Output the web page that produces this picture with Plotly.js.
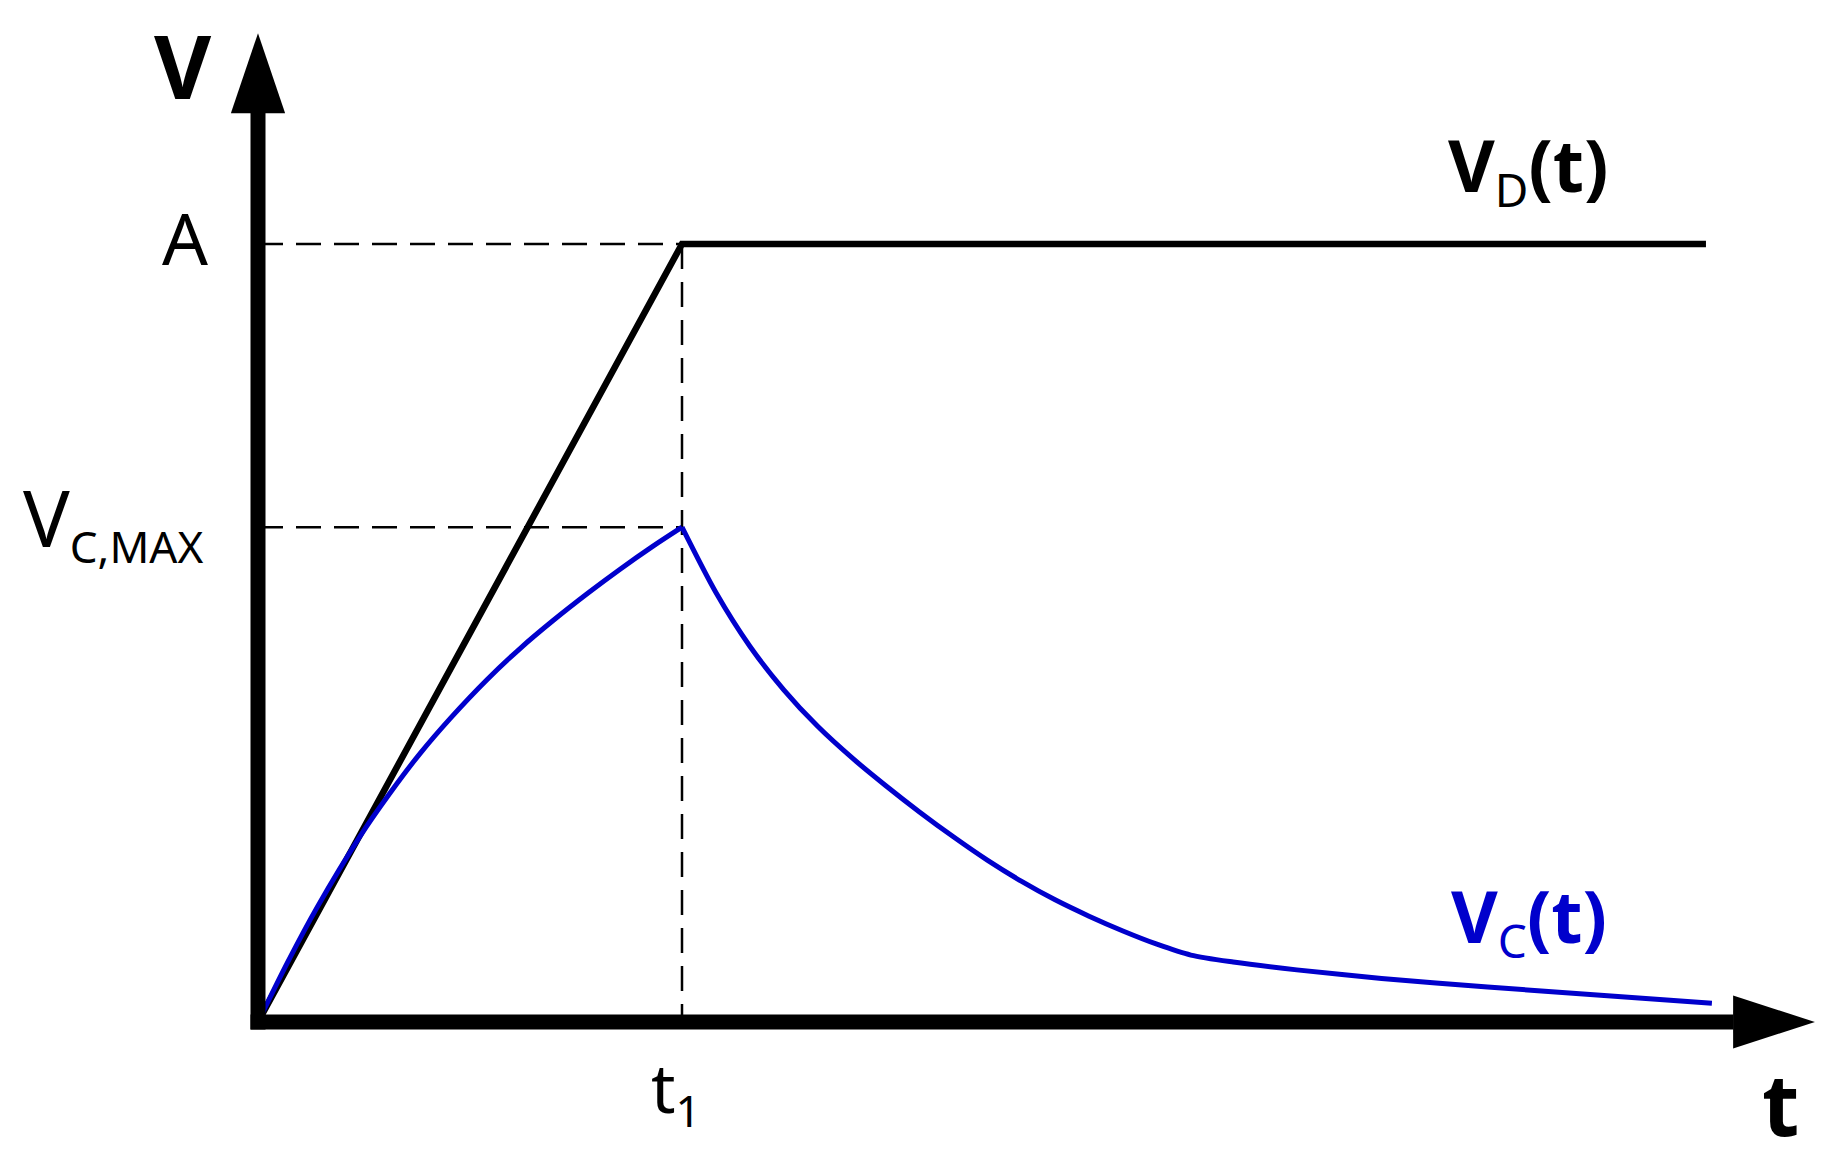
<!DOCTYPE html>
<html>
<head>
<meta charset="utf-8">
<script src="https://cdn.plot.ly/plotly-3.0.1.min.js"></script>
<style>
  html, body { margin: 0; padding: 0; background: #ffffff; }
  #chart { width: 1836px; height: 1160px; }
</style>
</head>
<body>
<div id="chart"></div>
<script>
// time in units of t1, voltage in units of A
const t1 = 1;
const vA = 1;
const vCmax = 0.636;

// drive voltage V_D(t): ramp to A at t1, then flat
const tDrive = [0, 1, 3.415];
const vDrive = [0, 1, 1];

// capacitor voltage V_C(t), charging part (0 .. t1)
const tRise = [0, 0.07, 0.139, 0.241, 0.311, 0.382, 0.453, 0.540, 0.620, 0.696, 0.780, 0.854, 0.930, 1.0];
const vRise = [0, 0.077, 0.147, 0.239, 0.294, 0.345, 0.390, 0.440, 0.481, 0.516, 0.552, 0.582, 0.611, 0.636];

// capacitor voltage V_C(t), discharging part (t1 .. end)
const tDecay = [1.0, 1.08, 1.16, 1.24, 1.32, 1.40, 1.48, 1.56, 1.64, 1.72, 1.80, 1.88,
                1.96, 2.04, 2.12, 2.20, 2.30, 2.45, 2.65, 2.90, 3.15, 3.429];
const vDecay = [0.636, 0.552, 0.483, 0.427, 0.380, 0.340, 0.304, 0.270, 0.238, 0.208, 0.181, 0.157,
                0.136, 0.117, 0.100, 0.086, 0.077, 0.067, 0.056, 0.045, 0.035, 0.024];

const blue = '#0000cc';
const font = '"Noto Sans", "Open Sans", sans-serif';
const dashStyle = { color: '#000000', width: 2.5, dash: '25px,13px' };

const traces = [
  // guide lines
  { x: [0, t1], y: [vA, vA], mode: 'lines', line: dashStyle, hoverinfo: 'skip' },
  { x: [0, t1], y: [vCmax, vCmax], mode: 'lines', line: dashStyle, hoverinfo: 'skip' },
  { x: [t1, t1], y: [vA, 0], mode: 'lines', line: dashStyle, hoverinfo: 'skip' },
  // V_D(t)
  { x: tDrive, y: vDrive, mode: 'lines', line: { color: '#000000', width: 6.5 } },
  // V_C(t)
  { x: tRise, y: vRise, mode: 'lines',
    line: { color: blue, width: 5, shape: 'spline', smoothing: 0.8, simplify: false } },
  { x: tDecay, y: vDecay, mode: 'lines',
    line: { color: blue, width: 5, shape: 'spline', smoothing: 0.8, simplify: false } }
];

// thick axes with arrow heads
const shapes = [
  { type: 'line', xref: 'x', yref: 'y', x0: 0, x1: 0, y0: -0.0096, y1: 1.17, layer: 'above',
    line: { color: '#000000', width: 15 } },
  { type: 'line', xref: 'x', yref: 'y', x0: -0.0177, x1: 3.48, y0: 0, y1: 0, layer: 'above',
    line: { color: '#000000', width: 15 } },
  { type: 'path', xref: 'x', yref: 'y', layer: 'above', path: 'M -0.064,1.168 L 0.064,1.168 L 0,1.271 Z',
    fillcolor: '#000000', line: { width: 0 } },
  { type: 'path', xref: 'x', yref: 'y', layer: 'above', path: 'M 3.479,-0.034 L 3.479,0.034 L 3.672,0 Z',
    fillcolor: '#000000', line: { width: 0 } }
];

const annotations = [
  { x: -0.177, y: 1.23, text: '<b>V</b>', font: { size: 88, color: '#000000', family: font } },
  { x: -0.172, y: 1.009, text: 'A', font: { size: 72, color: '#000000', family: font } },
  { x: -0.125, y: 0.645, xanchor: 'right', text: 'V<sub><span style="font-size:44px">C,MAX</span></sub>',
    font: { size: 78, color: '#000000', family: font } },
  { x: 0.986, y: -0.088, text: 't<sub><span style="font-size:44px">1</span></sub>', font: { size: 68, color: '#000000', family: font } },
  { x: 3.59, y: -0.103, text: '<b>t</b>', font: { size: 86, color: '#000000', family: font } },
  { x: 2.995, y: 1.098, text: '<b>V</b><sub><span style="font-size:46px">D</span></sub><b>(t)</b>',
    font: { size: 72, color: '#000000', family: font } },
  { x: 2.998, y: 0.133, text: '<b>V</b><sub><span style="font-size:46px">C</span></sub><b>(t)</b>',
    font: { size: 72, color: blue, family: font } }
].map(a => Object.assign({ xref: 'x', yref: 'y', showarrow: false, xanchor: 'center', yanchor: 'middle' }, a));

const layout = {
  width: 1836,
  height: 1160,
  margin: { t: 0, r: 0, l: 0, b: 0 },
  paper_bgcolor: '#ffffff',
  plot_bgcolor: '#ffffff',
  showlegend: false,
  xaxis: { range: [-0.6085, 3.7217], visible: false, fixedrange: true },
  yaxis: { range: [-0.1774, 1.3136], visible: false, fixedrange: true },
  shapes: shapes,
  annotations: annotations
};

Plotly.newPlot('chart', traces, layout, { displayModeBar: false, staticPlot: true });
</script>
</body>
</html>
